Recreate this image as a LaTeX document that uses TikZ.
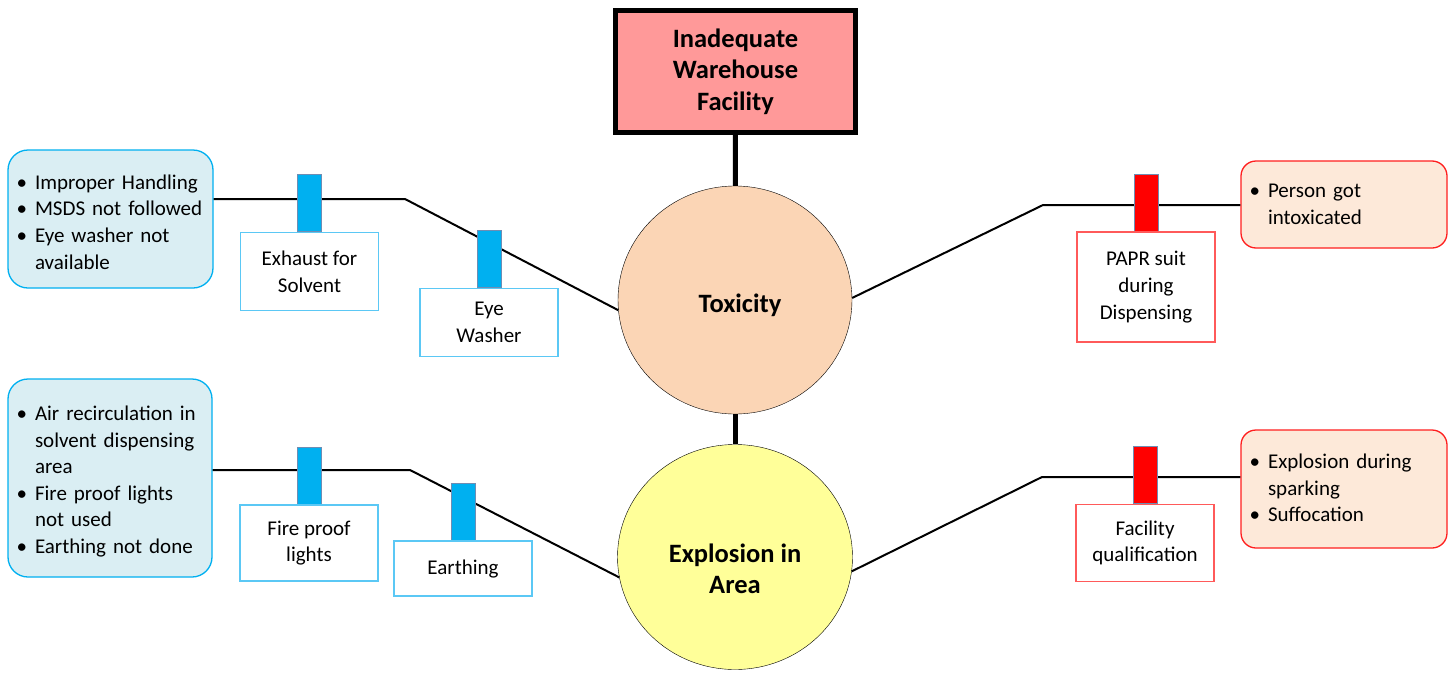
\documentclass[tikz,border=0pt]{standalone}
\usepackage{fontspec}
\setmainfont{Carlito}
\usepackage{enumitem}
\usepackage{xcolor}
\usetikzlibrary{positioning,shapes.geometric}
\definecolor{ttlfill}{HTML}{FF9999}
\definecolor{toxfill}{HTML}{FBD5B5}
\definecolor{expfill}{HTML}{FFFF99}
\definecolor{bluefill}{HTML}{DAEEF3}
\definecolor{blueedge}{HTML}{00B0F0}
\definecolor{lbledge}{HTML}{5BC8F5}
\definecolor{redfill}{HTML}{FDE9D9}
\definecolor{rededge}{HTML}{FF1F1F}
\definecolor{redlbl}{HTML}{FF5A5A}
\definecolor{tagedge}{HTML}{6F8DB3}
\newcommand{\pts}[2][0pt]{\vspace*{#1}\begin{itemize}[leftmargin=21pt,labelsep=8pt,nosep]\raggedright #2\end{itemize}}

\begin{document}
\begin{tikzpicture}[x=1pt, y=-1pt, font=\fontsize{21}{26.6}\selectfont,
  hub/.style={ellipse, draw=black, thin, inner sep=0pt},
  hubtxt/.style={font=\fontsize{26.5}{31.5}\selectfont\bfseries, align=center},
  lbl/.style={rectangle, draw=lbledge, line width=1.3pt, fill=white, minimum width=138pt, inner sep=0pt, align=center},
  tag/.style={rectangle, draw=tagedge, line width=0.8pt, fill=blueedge, minimum width=24pt, minimum height=57pt, inner sep=0pt},
  note/.style={rectangle, rounded corners=20pt, draw=blueedge, line width=1.3pt, fill=bluefill, inner sep=6pt, align=left},
  link/.style={line width=2pt},
  stem/.style={line width=5pt}]
  \useasboundingbox (0,0) rectangle (1456,672);
  \node[draw=black, line width=4.5pt, fill=ttlfill, minimum width=240pt, minimum height=122pt, hubtxt] (ttl) at (735.5,71.5) {Inadequate\\Warehouse\\Facility};
  \node[hub, fill=toxfill, minimum width=234pt, minimum height=228pt, label={[hubtxt, xshift=5pt, yshift=-5pt]center:Toxicity}] (tox) at (735,300) {};
  \node[hub, fill=expfill, minimum width=235pt, minimum height=225pt, label={[hubtxt, yshift=-12pt]center:Explosion in\\Area}] (exp) at (735,557) {};
  \draw[stem] (ttl) -- (tox);
  \draw[stem] (tox) -- (exp);

  \node[note, text width=193pt, minimum height=138pt] (n1) at (110.5,219) {\pts[-6pt]{\item Improper Handling \item MSDS not followed \item Eye washer not\newline available}};
  \node[note, text width=192pt, minimum height=198pt] (n2) at (110,478) {\pts[-5pt]{\item Air recirculation in\newline solvent dispensing\newline area \item Fire proof lights\newline not used \item Earthing not done}};
  \node[note, rounded corners=15pt, draw=rededge, fill=redfill, text width=194pt, minimum height=87pt] (n3) at (1344,204.5) {\pts[-14pt]{\item Person got\newline intoxicated}};
  \node[note, rounded corners=15pt, draw=rededge, fill=redfill, text width=194pt, minimum height=118pt] (n4) at (1344,489) {\pts[-14pt]{\item Explosion during\newline sparking \item Suffocation}};

  \coordinate (k1) at (405,199);
  \coordinate (k2) at (410,470);
  \coordinate (k3) at (1043,205);
  \coordinate (k4) at (1042,477);
  \draw[link] (n1.east |- k1) -- (k1) -- (tox.185);
  \draw[link] (n2.east |- k2) -- (k2) -- (exp.190);
  \draw[link] (tox.1) -- (k3) -- (n3.west |- k3);
  \draw[link] (exp.353) -- (k4) -- (n4.west |- k4);

  \node[tag] (t1) at (309.5,203) {};
  \node[lbl, below=0pt of t1, minimum height=78pt] (b1) {Exhaust for\\Solvent};
  \node[tag] (t2) at (489,259) {};
  \node[lbl, below=0pt of t2, minimum height=68pt] (b2) {Eye\\Washer};
  \node[tag, fill=red] (t3) at (1146,202.5) {};
  \node[lbl, draw=redlbl, below=0pt of t3, minimum height=110pt] (b3) {PAPR suit\\during\\Dispensing};
  \node[tag] (t4) at (309,475.5) {};
  \node[lbl, below=0pt of t4, minimum height=76pt] (b4) {Fire proof\\lights};
  \node[tag] (t5) at (463,511.5) {};
  \node[lbl, below=0pt of t5, minimum height=55pt] (b5) {Earthing};
  \node[tag, fill=red] (t6) at (1145,475) {};
  \node[lbl, draw=redlbl, below=0pt of t6, minimum height=77pt] (b6) {Facility\\qualification};
\end{tikzpicture}
\end{document}
